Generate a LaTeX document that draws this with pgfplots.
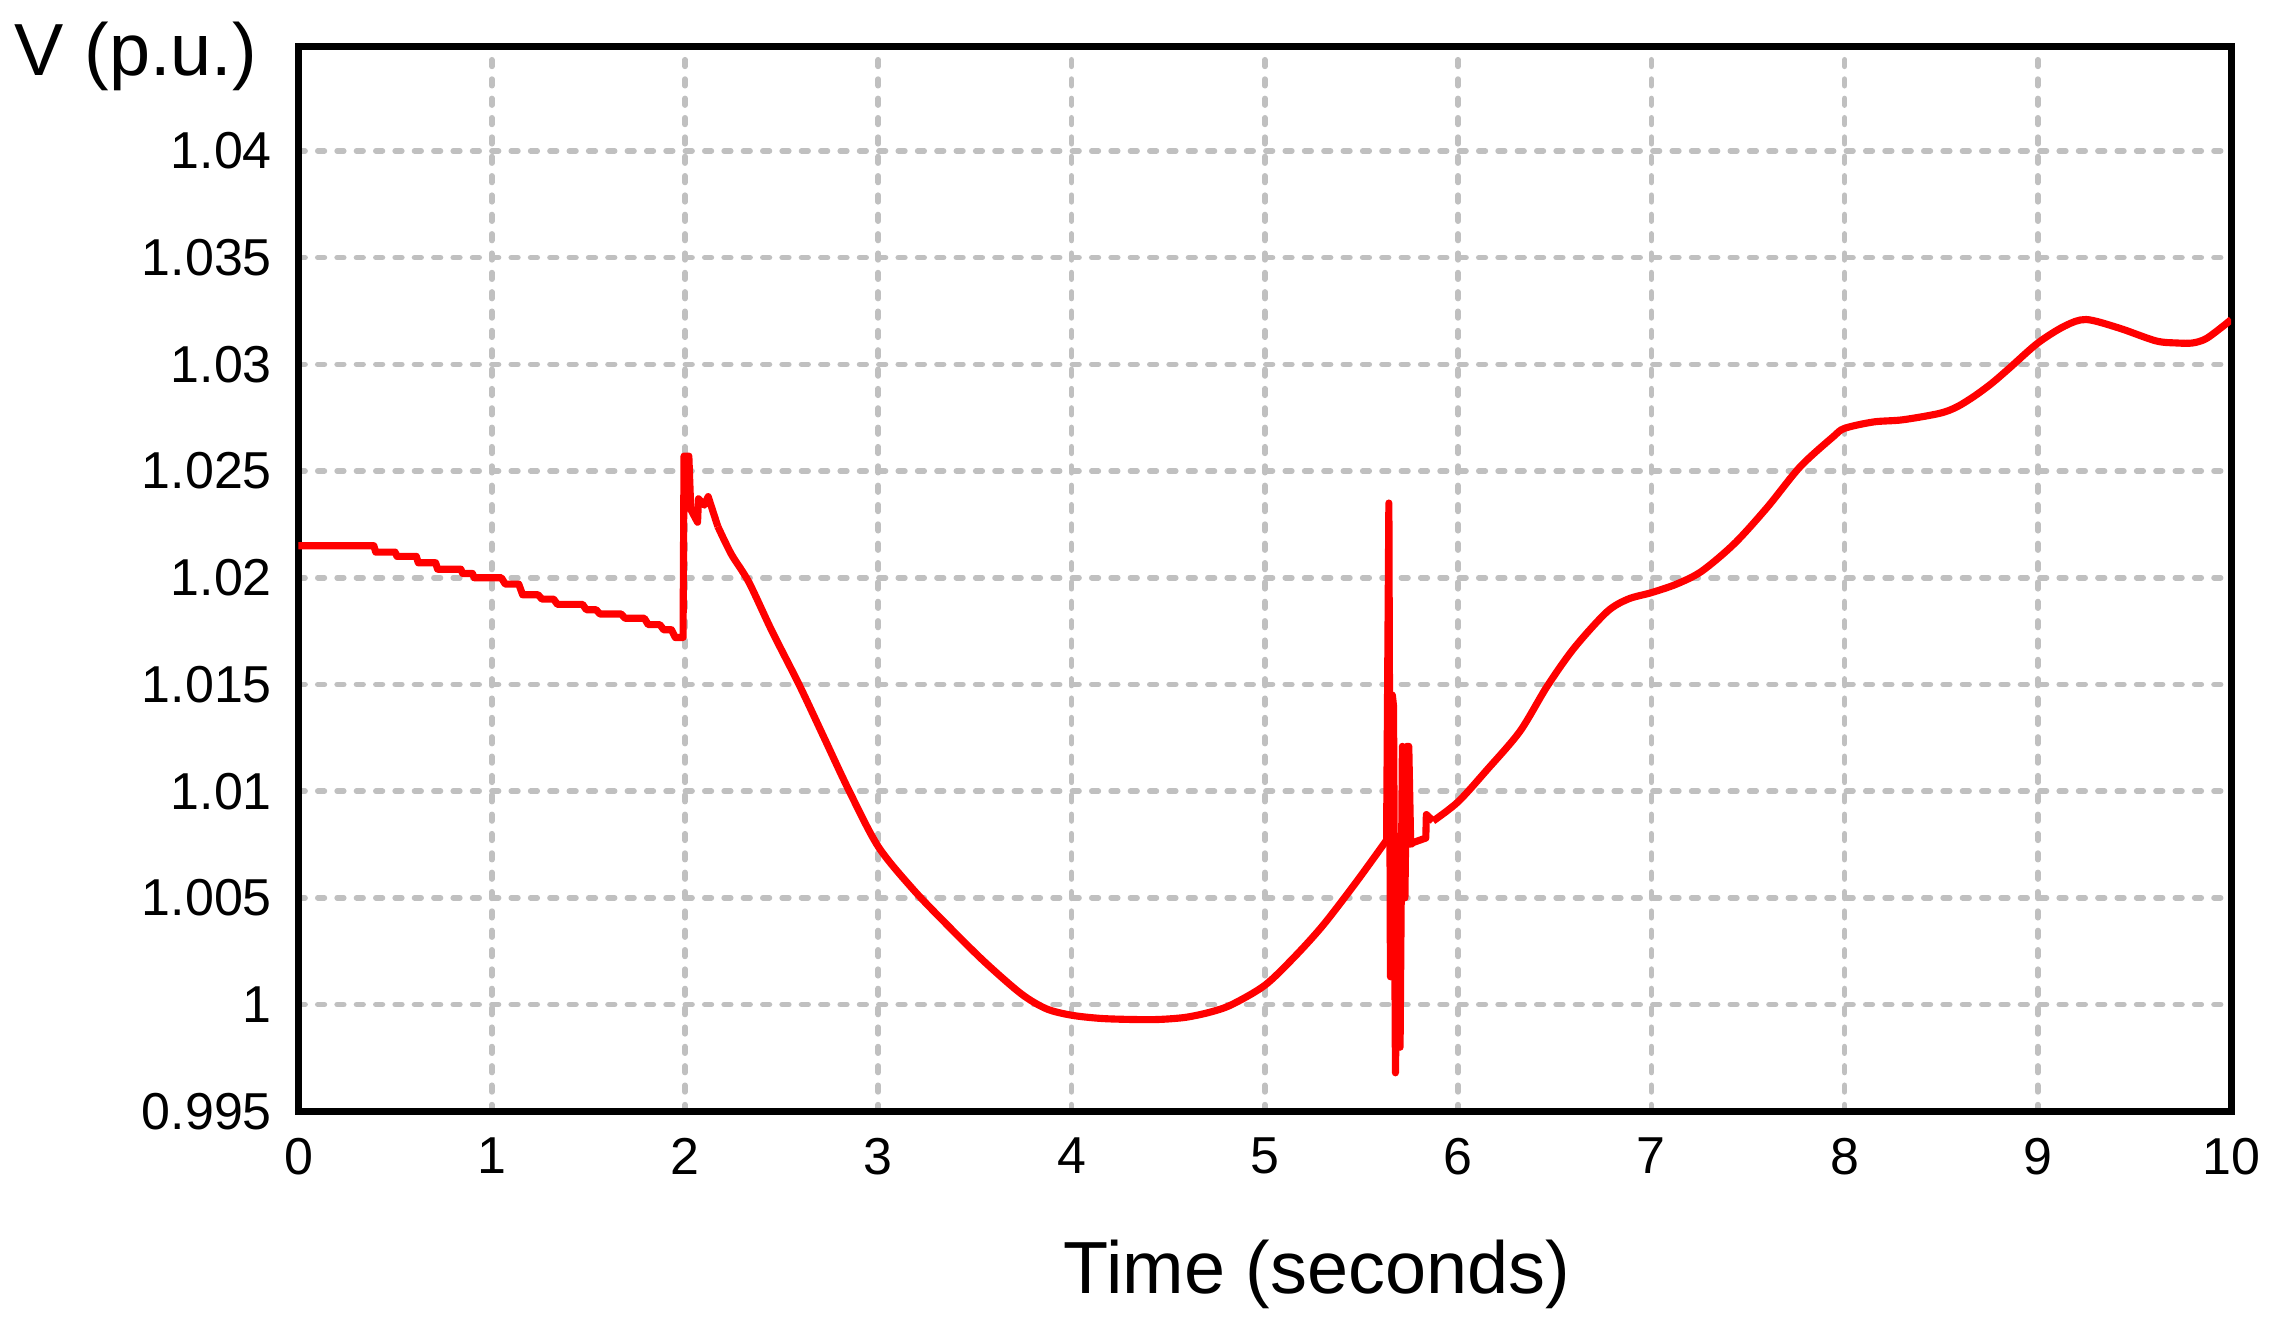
\documentclass[border=0pt]{standalone}
\usepackage{fontspec}
\setmainfont{Liberation Sans}
\usepackage{pgfplots}
\pgfplotsset{compat=1.18}
\definecolor{gridgray}{RGB}{192,192,192}
\definecolor{vred}{RGB}{255,0,0}

\begin{document}
\begin{tikzpicture}
\begin{axis}[
    name=ax,
    scale only axis,
    width=13.34cm, height=7.35cm,
    xmin=0, xmax=10,
    ymin=0.995, ymax=1.0449,
    xtick={0,1,2,3,4,5,6,7,8,9,10},
    xticklabels={0,1,2,3,4,5,6,7,8,9,10},
    ytick={0.995,1,1.005,1.01,1.015,1.02,1.025,1.03,1.035,1.04},
    yticklabels={0.995,1,1.005,1.01,1.015,1.02,1.025,1.03,1.035,1.04},
    major tick length=0pt,
    grid=major,
    major grid style={gridgray, line width=1.1pt, line cap=round, dash pattern=on 1.3pt off 2.5pt},
    axis line style={black, line width=1.4pt},
    tick label style={font=\fontsize{10.2}{12}\selectfont},
    xticklabel style={yshift=-1.7pt},
    yticklabel style={xshift=-1.7pt},
    every axis plot/.append style={vred, line width=1.4pt, line join=round},
]
% staircase and first disturbance
\addplot[sharp plot] coordinates {
    (0,1.0215) (0.39,1.0215) (0.40,1.0212) (0.50,1.0212) (0.51,1.0210)
    (0.61,1.0210) (0.62,1.0207) (0.71,1.0207) (0.72,1.0204) (0.84,1.0204)
    (0.85,1.0202) (0.90,1.0202) (0.91,1.0200) (1.05,1.0200) (1.07,1.0197)
    (1.14,1.0197) (1.16,1.0192) (1.24,1.0192) (1.26,1.0190) (1.32,1.0190)
    (1.34,1.01875) (1.47,1.01875) (1.49,1.0185) (1.54,1.0185) (1.56,1.0183)
    (1.67,1.0183) (1.69,1.0181) (1.79,1.0181) (1.81,1.0178) (1.87,1.0178)
    (1.89,1.01756) (1.93,1.01756) (1.95,1.0172) (1.99,1.0172)
    (1.995,1.0257) (2.02,1.0257) (2.03,1.0232) (2.065,1.0226) (2.07,1.0237)
    (2.10,1.0234) (2.12,1.0238) (2.17,1.0224)
};
% decay and recovery
\addplot[smooth, tension=0.5] coordinates {
    (2.17,1.0224) (2.24,1.0211) (2.33,1.0198)
    (2.45,1.0175) (2.59,1.0150) (2.72,1.0125) (2.85,1.0100) (3.0,1.0074)
    (3.18,1.0054) (3.36,1.0037) (3.55,1.0020) (3.74,1.0005) (3.87,0.9998)
    (4.0,0.9995) (4.15,0.99935) (4.31,0.9993) (4.45,0.9993) (4.59,0.9994)
    (4.72,0.99965) (4.83,1.0000) (5.0,1.0009) (5.15,1.0022) (5.3,1.0037)
    (5.47,1.0057) (5.63,1.0077)
};
% second disturbance
\addplot[sharp plot] coordinates {
    (5.63,1.0077)
    (5.642,1.0235) (5.650,1.0013) (5.660,1.0145) (5.666,1.0140) (5.676,0.9968)
    (5.690,1.0058) (5.700,0.9980) (5.712,1.0121) (5.725,1.0050) (5.735,1.0121)
    (5.745,1.0121) (5.755,1.0075) (5.770,1.0076) (5.833,1.0078) (5.836,1.0089)
    (5.871,1.0086)
};
% final rise
\addplot[smooth, tension=0.5] coordinates {
    (5.871,1.0086)
    (6.0,1.0095) (6.15,1.0110) (6.32,1.0128) (6.46,1.0149) (6.60,1.0167)
    (6.77,1.0184) (6.88,1.0190) (7.0,1.0193) (7.13,1.0197) (7.26,1.0203)
    (7.43,1.0216) (7.60,1.0233) (7.77,1.0252) (7.94,1.0266) (8.0,1.0270)
    (8.15,1.0273) (8.30,1.0274) (8.49,1.0277) (8.58,1.0280) (8.67,1.0285)
    (8.76,1.0291) (8.85,1.0298) (9.0,1.0310) (9.14,1.0318) (9.25,1.0321)
    (9.42,1.0317) (9.61,1.0311) (9.72,1.0310) (9.80,1.0310) (9.87,1.0312)
    (9.96,1.0318) (10,1.0321)
};
\end{axis}
\node[anchor=base east, inner sep=0pt, font=\fontsize{14.5}{17}\selectfont, xshift=-0.28cm, yshift=-0.20cm] at (ax.north west) {V (p.u.)};
\node[anchor=base, inner sep=0pt, font=\fontsize{14.5}{17}\selectfont] at ([xshift=7.03cm, yshift=-1.26cm]ax.south west) {Time (seconds)};
\path ([xshift=-2.06cm, yshift=-1.47cm]ax.south west) rectangle ([xshift=0.28cm, yshift=0.32cm]ax.north east);
\end{tikzpicture}
\end{document}
